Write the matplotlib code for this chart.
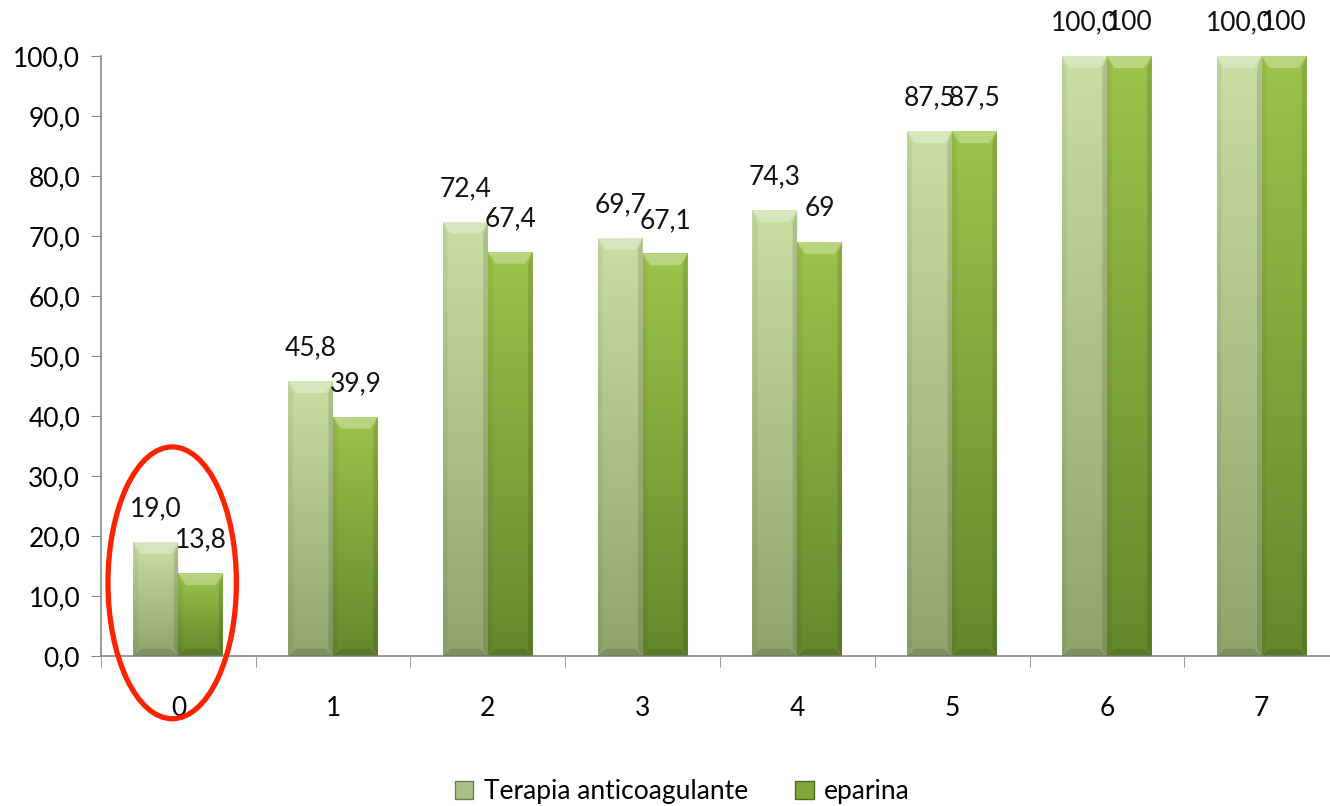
import numpy as np
import matplotlib.pyplot as plt
from matplotlib.patches import Ellipse, Polygon, Patch
from matplotlib.colors import to_rgb

categorie = ['0', '1', '2', '3', '4', '5', '6', '7']
terapia = [19.0, 45.8, 72.4, 69.7, 74.3, 87.5, 100.0, 100.0]
eparina = [13.8, 39.9, 67.4, 67.1, 69, 87.5, 100, 100]
etichette_terapia = ['19,0', '45,8', '72,4', '69,7', '74,3', '87,5', '100,0', '100,0']
etichette_eparina = ['13,8', '39,9', '67,4', '67,1', '69', '87,5', '100', '100']
serie = ['Terapia anticoagulante', 'eparina']

# colori (alto, basso) per ogni serie
colori = [('#c8dea2', '#8fa56c'), ('#9cc34a', '#64892c')]


def barre_sfumate(ax, xs, valori, larghezza, col_alto, col_basso):
    top = np.array(to_rgb(col_alto))
    bot = np.array(to_rgb(col_basso))
    t = np.linspace(0, 1, 64)[:, None]
    grad = (bot + (top - bot) * t)[::-1][:, None, :]
    bars = ax.bar(xs, valori, larghezza, color='none', edgecolor='none')
    for b in bars:
        x0, w, h = b.get_x(), b.get_width(), b.get_height()
        im = ax.imshow(grad, extent=(x0, x0 + w, 0, h), aspect='auto',
                       origin='upper', zorder=2, interpolation='bilinear')
        im.set_clip_path(b)
        d, e = 0.05, 2.0
        # smusso superiore chiaro e inferiore scuro
        ax.add_patch(Polygon([(x0, h), (x0 + w, h), (x0 + w - d, h - e), (x0 + d, h - e)],
                             closed=True, facecolor='white', alpha=0.3, edgecolor='none', zorder=3))
        ax.add_patch(Polygon([(x0, 0), (x0 + w, 0), (x0 + w - d, e * 0.6), (x0 + d, e * 0.6)],
                             closed=True, facecolor='black', alpha=0.12, edgecolor='none', zorder=3))
        ax.add_patch(Polygon([(x0, 0), (x0 + d * 0.6, e * 0.6), (x0 + d * 0.6, h - e), (x0, h)],
                             closed=True, facecolor='black', alpha=0.05, edgecolor='none', zorder=3))
        ax.add_patch(Polygon([(x0 + w, 0), (x0 + w - d * 0.6, e * 0.6), (x0 + w - d * 0.6, h - e), (x0 + w, h)],
                             closed=True, facecolor='black', alpha=0.12, edgecolor='none', zorder=3))
    return bars


fig = plt.figure(figsize=(13.3, 8.06), dpi=100)
ax = fig.add_axes([101 / 1330, 150 / 806, 1238 / 1330, 600 / 806])

x = np.arange(len(categorie))
w = 0.29
b1 = barre_sfumate(ax, x - w / 2, terapia, w, *colori[0])
b2 = barre_sfumate(ax, x + w / 2, eparina, w, *colori[1])

font = 'Lato'
for bars, labels in ((b1, etichette_terapia), (b2, etichette_eparina)):
    for b, lab in zip(bars, labels):
        ax.text(b.get_x() + b.get_width() / 2, b.get_height() + 5.5, lab,
                ha='center', va='center', fontsize=19, family=font,
                color='#111111', clip_on=False, zorder=5)

ax.set_xlim(-0.5, 7.5)
ax.set_ylim(0, 100)
ax.set_yticks(np.arange(0, 101, 10))
ax.set_yticklabels([f'{v:.1f}'.replace('.', ',') for v in np.arange(0, 101, 10)],
                   family=font, fontsize=19)
ax.set_xticks(x)
ax.set_xticklabels(categorie, family=font, fontsize=19)
ax.set_xticks(np.arange(-0.5, 8.0, 1), minor=True)
ax.tick_params(axis='x', which='major', length=0, pad=29)
ax.tick_params(axis='x', which='minor', length=8, color='#888888', direction='out')
ax.tick_params(axis='y', length=7, color='#888888', pad=8)
for s in ('top', 'right'):
    ax.spines[s].set_visible(False)
for s in ('left', 'bottom'):
    ax.spines[s].set_color('#888888')
    ax.spines[s].set_linewidth(1.2)

# evidenzia la prima categoria
ax.add_patch(Ellipse((-0.04, 12.2), 0.83, 45.3, fill=False, edgecolor='#ff2200',
                     linewidth=3.8, clip_on=False, zorder=6))

handles = [Patch(facecolor='#a9c184', edgecolor='#6b7d52', label=serie[0]),
           Patch(facecolor='#7fa73a', edgecolor='#4d6b20', label=serie[1])]
fig.legend(handles=handles, loc='lower center', bbox_to_anchor=(0.513, -0.027), ncol=2,
           frameon=False, prop={'family': font, 'size': 19}, handlelength=0.7,
           handleheight=0.7, handletextpad=0.4, columnspacing=1.8)

fig.savefig('out.png', dpi=100)
